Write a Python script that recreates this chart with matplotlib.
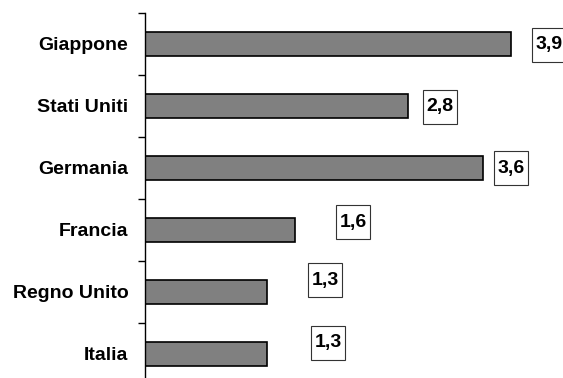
import matplotlib.pyplot as plt
import numpy as np

paesi = ["Giappone", "Stati Uniti", "Germania", "Francia", "Regno Unito", "Italia"]
valori = [3.9, 2.8, 3.6, 1.6, 1.3, 1.3]
etichette = ["3,9", "2,8", "3,6", "1,6", "1,3", "1,3"]

# label offsets from the bar end, in pixels (the boxes are placed by hand in the original)
offset = [(38, -1), (32, -1), (28, 0), (58, 8), (58, 12), (61, 11)]

plt.rcParams['font.family'] = ['Liberation Sans', 'DejaVu Sans']

fig = plt.figure(figsize=(5.63, 3.78), dpi=100)
ax = fig.add_axes([145 / 563, -7 / 378, 418 / 563, 372 / 378])

y = np.arange(len(paesi))
ax.barh(y, valori, height=0.4, color="#808080", edgecolor="black", linewidth=1.2)

for i in range(len(paesi)):
    ax.annotate(etichette[i], (valori[i], y[i]), xytext=offset[i], textcoords="offset pixels",
                ha="center", va="center", fontsize=14, fontweight="bold", annotation_clip=False,
                bbox=dict(boxstyle="square,pad=0.18", mutation_aspect=2.4,
                          fc="white", ec="#333333", lw=0.8))

ax.set_xlim(0, 418 / 93.8)
ax.set_ylim(len(paesi) - 0.5, -0.5)

ax.set_yticks(np.arange(len(paesi) + 1) - 0.5)
ax.set_yticklabels([])
ax.set_yticks(y, minor=True)
ax.set_yticklabels(paesi, minor=True, fontsize=14, fontweight="bold")
ax.tick_params(axis="y", which="major", length=5, width=1, direction="out")
ax.tick_params(axis="y", which="minor", length=0, pad=12)

ax.set_xticks([])
for s in ["top", "right", "bottom"]:
    ax.spines[s].set_visible(False)
ax.spines["left"].set_linewidth(1)

fig.savefig("out.png", dpi=100)
